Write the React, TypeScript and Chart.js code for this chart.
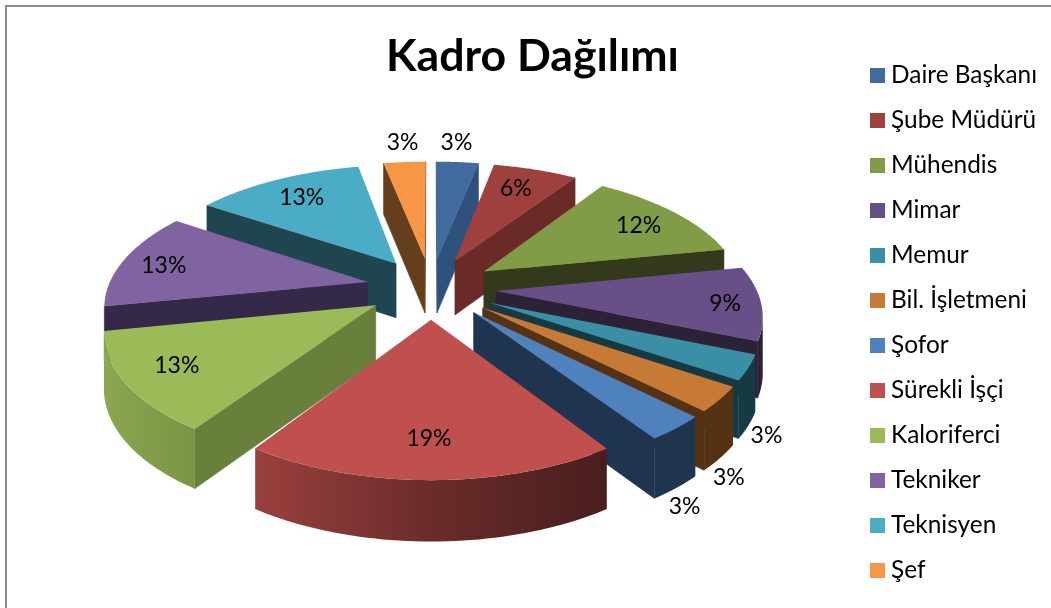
import React, { useEffect, useRef } from "react";
import { Chart, registerables } from "chart.js";

Chart.register(...registerables);

const categories = ["Daire Başkanı", "Şube Müdürü", "Mühendis", "Mimar", "Memur", "Bil. İşletmeni", "Şofor", "Sürekli İşçi", "Kaloriferci", "Tekniker", "Teknisyen", "Şef"];
const staffCounts = [1, 2, 4, 3, 1, 1, 1, 6, 4, 4, 4, 1];
const percentLabels = ["3%", "6%", "12%", "9%", "3%", "3%", "3%", "19%", "13%", "13%", "13%", "3%"];
const topColors = ["#416a9e", "#9e413e", "#809c47", "#684f88", "#3a8fa6", "#c77a35", "#4f81bd", "#c0504d", "#9bbb59", "#8064a2", "#4bacc6", "#f79646"];
const wallColors = ["#2f527d", "#6a2a28", "#333a1c", "#2d2138", "#173a42", "#553214", "#1f344f", "#6e2b29", "#697f3c", "#35294a", "#1f4650", "#653e1b"];
const labelRadius = [1.19, 0.816, 0.816, 0.872, 1.048, 1.056, 1.072, 0.816, 0.828, 0.844, 0.696, 1.19].map((v) => v * 1.25);
const labelShiftX = [-5, -3, 6, 7, 1, -10, -13, -2, -7, -7, -17, 2];
const labelShiftY = [0, 0, 1, 2, 64, 71, 66, 1, 0, 2, -12, 0];

const FONT = "Lato, 'Noto Sans', sans-serif";
const CX = 431, CY = 288, RX = 260, RY = 122, PERSP = 0.165, DEPTH = 55;

type P = { x: number; y: number; s: number };
const proj = (X: number, Y: number): P => {
  const s = 1 / (1 - PERSP * Y);
  return { x: CX + RX * X * s, y: CY + RY * Y * s, s };
};
const drop = (p: P): P => ({ x: p.x, y: p.y + DEPTH * (1 + (p.s - 1) * 0.45), s: p.s });

function mix(hex: string, f: number) {
  const n = parseInt(hex.slice(1), 16);
  const c = [(n >> 16) & 255, (n >> 8) & 255, n & 255].map((v) => Math.round(v * f));
  return `rgb(${c[0]},${c[1]},${c[2]})`;
}

const pie3d = {
  id: "pie3d",
  beforeDatasetsDraw(chart: any) {
    const ctx: CanvasRenderingContext2D = chart.ctx;
    const arcs = chart.getDatasetMeta(0).data as any[];
    const items = arcs.map((arc, i) => {
      const a0 = arc.startAngle + Math.PI / 2;
      const a1 = arc.endAngle + Math.PI / 2;
      const mid = (a0 + a1) / 2;
      const R = arc.outerRadius;
      const off = arc.options.offset / R;
      return { i, a0, a1, mid, off, ox: off * Math.sin(mid), oy: -off * Math.cos(mid) };
    });
    const order = [...items].sort((a, b) => -Math.cos(a.mid) + Math.cos(b.mid));
    for (const it of order) {
      const tip = proj(it.ox, it.oy);
      const pts: P[] = [];
      const n = 48;
      for (let k = 0; k <= n; k++) {
        const t = it.a0 + ((it.a1 - it.a0) * k) / n;
        pts.push(proj(it.ox + Math.sin(t), it.oy - Math.cos(t)));
      }
      const wall = (a: P, b: P) => {
        if (b.x >= a.x) return;
        const c = drop(b), d = drop(a);
        ctx.beginPath();
        ctx.moveTo(a.x, a.y); ctx.lineTo(b.x, b.y); ctx.lineTo(c.x, c.y); ctx.lineTo(d.x, d.y);
        ctx.closePath();
        ctx.fillStyle = wallColors[it.i];
        ctx.strokeStyle = wallColors[it.i];
        ctx.lineWidth = 0.6;
        ctx.fill(); ctx.stroke();
      };
      wall(tip, pts[0]);
      wall(pts[n], tip);
      // outer curved face, only the run that faces the viewer
      const run: P[] = [];
      for (let k = 0; k < n; k++) {
        if (pts[k + 1].x < pts[k].x) {
          if (!run.length) run.push(pts[k]);
          run.push(pts[k + 1]);
        }
      }
      if (run.length > 1) {
        const base = it.i === 7 || it.i === 8 ? topColors[it.i] : wallColors[it.i];
        const g = ctx.createLinearGradient(100, 0, 610, 0);
        if (it.i === 7) {
          g.addColorStop(0, mix(base, 0.85)); g.addColorStop(0.3, mix(base, 0.8));
          g.addColorStop(0.65, mix(base, 0.55)); g.addColorStop(1, mix(base, 0.37));
        } else if (it.i === 8) {
          g.addColorStop(0, mix(base, 0.9)); g.addColorStop(0.2, mix(base, 0.78)); g.addColorStop(1, mix(base, 0.7));
        } else {
          g.addColorStop(0, base); g.addColorStop(1, base);
        }
        ctx.beginPath();
        run.forEach((p, idx) => (idx ? ctx.lineTo(p.x, p.y) : ctx.moveTo(p.x, p.y)));
        [...run].reverse().forEach((p) => { const q = drop(p); ctx.lineTo(q.x, q.y); });
        ctx.closePath();
        ctx.fillStyle = g;
        ctx.fill();
      }
      // top face
      ctx.beginPath();
      ctx.moveTo(tip.x, tip.y);
      pts.forEach((p) => ctx.lineTo(p.x, p.y));
      ctx.closePath();
      ctx.fillStyle = arcs[it.i].options.backgroundColor;
      ctx.fill();
    }
    // value labels
    ctx.fillStyle = "#000";
    ctx.font = `23px ${FONT}`;
    ctx.textAlign = "center";
    ctx.textBaseline = "middle";
    for (const it of items) {
      const r = labelRadius[it.i];
      const p = proj(r * Math.sin(it.mid), -r * Math.cos(it.mid));
      ctx.fillText(percentLabels[it.i], p.x + labelShiftX[it.i], p.y + labelShiftY[it.i]);
    }
    return false;
  },
};

export default function App() {
  const ref = useRef<HTMLCanvasElement>(null);
  useEffect(() => {
    const swatches = topColors.map((c) => {
      const cv = document.createElement("canvas");
      cv.width = 15; cv.height = 15;
      const x = cv.getContext("2d")!;
      x.fillStyle = c;
      x.fillRect(0, 0, 15, 15);
      return cv;
    });
    const chart = new Chart(ref.current!, {
      type: "pie",
      data: {
        labels: categories,
        datasets: [{ data: staffCounts, backgroundColor: topColors, offset: 65, borderWidth: 0, radius: 260 } as any],
      },
      options: {
        responsive: false,
        animation: false,
        layout: { padding: { left: 18, right: 4, top: 30, bottom: -8 } },
        plugins: {
          tooltip: { enabled: false },
          title: {
            display: true,
            text: "Kadro Dağılımı",
            color: "#000",
            font: { family: FONT, size: 44.6, weight: "bold" },
            padding: { top: 0, bottom: 10 },
          },
          legend: {
            position: "right",
            labels: {
              color: "#000",
              font: { family: FONT, size: 24.4, lineHeight: 1.2 },
              usePointStyle: true,
              pointStyleWidth: 2,
              padding: 20.6,
              generateLabels(c: any) {
                const base = (Chart as any).overrides.doughnut.plugins.legend.labels.generateLabels(c);
                return base.map((l: any, i: number) => ({ ...l, pointStyle: swatches[i], lineWidth: 0 }));
              },
            },
          },
        },
      },
      plugins: [pie3d],
    } as any);
    return () => chart.destroy();
  }, []);
  return (
    <div style={{ position: "fixed", left: 0, top: 0, width: 1051, height: 608, background: "#fff", overflow: "hidden" }}>
      <canvas ref={ref} width={1051} height={608} style={{ display: "block" }} />
      <div style={{ position: "absolute", left: 5, top: 5, right: -4, bottom: -4, borderLeft: "2px solid #8c8c8c", borderTop: "2px solid #8c8c8c", pointerEvents: "none" }} />
    </div>
  );
}
